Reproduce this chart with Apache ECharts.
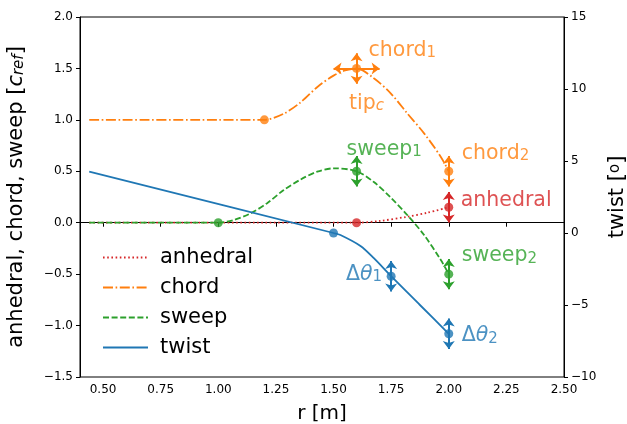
<!DOCTYPE html>
<html><head><meta charset="utf-8">
<script src="https://cdn.jsdelivr.net/npm/echarts@6/dist/echarts.min.js"></script>
<style>html,body{margin:0;padding:0;background:#fff}#c{width:627px;height:424px}</style>
</head><body><div id="c"></div>
<script>
// ---- data ----
const xTicks = [0.5, 0.75, 1.0, 1.25, 1.5, 1.75, 2.0, 2.25, 2.5];
// curves [r, value]
const anhedralCurve = [[0.44,0],[1.0,0],[1.6,0],[1.7,0.017],[1.82,0.058],[1.907,0.097],[2.0,0.15]];
const chordCurve = [[0.44,1.0],[1.0,1.0],[1.2,1.0],[1.284,1.06],[1.357,1.17],[1.43,1.32],[1.5,1.43],[1.55,1.48],[1.6,1.5],
  [1.675,1.404],[1.748,1.258],[1.82,1.063],[1.893,0.869],[1.965,0.642],[2.0,0.5]];
const sweepCurve = [[0.44,0],[0.9,0],[1.0,0],[1.067,0.026],[1.139,0.09],[1.212,0.19],[1.284,0.318],[1.357,0.42],
  [1.429,0.496],[1.502,0.529],[1.6,0.5],[1.675,0.395],[1.748,0.245],[1.82,0.075],[1.893,-0.12],[1.965,-0.36],[2.0,-0.5]];
const twistCurve = [[0.44,4.26],[1.5,0],[1.53,-0.14],[1.617,-0.9],[1.675,-1.75],[1.75,-3],[1.875,-5],[2.0,-7]];
// control points (dots)
const anhedralPts = [[1.6,0],[2.0,0.15]];
const chordPts = [[1.2,1.0],[1.6,1.5],[2.0,0.5]];
const sweepPts = [[1.0,0],[1.6,0.5],[2.0,-0.5]];
const twistPts = [[1.5,0],[1.75,-3],[2.0,-7]];
// design variables (arrows)
const anhedralVars = [[2.0,0.15]];
const chordVars = [[1.6,1.5],[2.0,0.5]];
const tipVars = [[1.6,1.5]];
const sweepVars = [[1.6,0.5],[2.0,-0.5]];
const twistVars = [[1.75,-3],[2.0,-7]];
// annotation labels
const leftLabels = [
  {pt:[1.6,1.5], text:'chord{s|1}', color:'#ff7f0e', pos:[12,-18], align:'left'},
  {pt:[1.6,1.5], text:'tip{si|c}', color:'#ff7f0e', pos:[10,35], align:'center'},
  {pt:[1.6,0.5], text:'sweep{s|1}', color:'#2ca02c', pos:[-10,-22], align:'left'},
  {pt:[2.0,0.5], text:'chord{s|2}', color:'#ff7f0e', pos:[13,-18], align:'left'},
  {pt:[2.0,0.15], text:'anhedral', color:'#d62728', pos:[12,-7], align:'left'},
  {pt:[2.0,-0.5], text:'sweep{s|2}', color:'#2ca02c', pos:[13,-18], align:'left'}
];
const rightLabels = [
  {pt:[1.75,-3], text:'Δ{i|θ}{s|1}', color:'#1f77b4', pos:[-9,-2], align:'right'},
  {pt:[2.0,-7], text:'Δ{i|θ}{s|2}', color:'#1f77b4', pos:[13,2], align:'left'}
];

const C = {anhedral:'#d62728', chord:'#ff7f0e', sweep:'#2ca02c', twist:'#1f77b4'};
const FF = 'DejaVu Sans';
const LW = 1.8;
const FS = 20.5;
const dY = 0.148, dT = 1.06, dX = 0.1;

function richFor(color){
  return {
    s:{fontSize:15, fontFamily:FF, color, lineHeight:10, verticalAlign:'bottom'},
    si:{fontSize:15, fontFamily:FF, color, lineHeight:10, verticalAlign:'bottom', fontStyle:'italic'},
    i:{fontSize:FS, fontFamily:FF, color, fontStyle:'italic'}
  };
}
function arrowLine(color, data){
  return {silent:true, symbol:['arrow','arrow'], symbolSize:[9,8], label:{show:false},
    lineStyle:{color, width:2, type:'solid'}, emphasis:{disabled:true}, animation:false, data};
}
function vert(vars, d){ return vars.map(([x,y]) => [{coord:[x,y-d]},{coord:[x,y+d]}]); }
function horiz(vars, d){ return vars.map(([x,y]) => [{coord:[x-d,y]},{coord:[x+d,y]}]); }
function curve(name, data, color, type, yi){
  return {name, type:'line', data, yAxisIndex:yi, symbol:'none', smooth:0.3,
    lineStyle:{color, width:LW, type}, itemStyle:{color}, z:2, animation:false};
}
function dots(data, color, yi, ml){
  const s = {type:'scatter', data, yAxisIndex:yi, symbol:'circle', symbolSize:9,
    itemStyle:{color}, z:4, animation:false, silent:true};
  if (ml) s.markLine = ml;
  return s;
}
function labelSeries(list, yi){
  return {type:'scatter', yAxisIndex:yi, symbolSize:0, silent:true, z:5, animation:false,
    data: list.map(l => ({value:l.pt, label:{show:true, position:l.pos, align:l.align, verticalAlign:'middle',
      formatter:l.text, fontSize:FS, fontFamily:FF, color:l.color, rich:richFor(l.color)}}))};
}

const chord1Lines = vert(chordVars, dY).concat(horiz(tipVars, dX));

const option = {
  backgroundColor:'#fff',
  animation:false,
  grid:{left:80, right:63, top:17, bottom:47, outerBoundsMode:'none', containLabel:false,
    show:true, borderColor:'#000', borderWidth:1, backgroundColor:'transparent'},
  legend:{
    orient:'vertical', left:97, top:242, itemWidth:45, itemHeight:14, itemGap:9,
    data:['anhedral','chord','sweep','twist'],
    itemStyle:{opacity:0},
    textStyle:{fontSize:21, fontFamily:FF, color:'#000', padding:[0,0,0,7]},
    selectedMode:false
  },
  xAxis:{
    type:'value', min:0.4, max:2.5,
    name:'r [m]', nameLocation:'middle', nameGap:27,
    nameTextStyle:{fontSize:20, fontFamily:FF, color:'#000'},
    axisLine:{show:true, lineStyle:{color:'#000', width:1}},
    axisTick:{show:true, length:4, customValues:xTicks, lineStyle:{color:'#000'}},
    axisLabel:{customValues:xTicks, formatter:v => v.toFixed(2), fontSize:12, fontFamily:FF, color:'#000', margin:7},
    splitLine:{show:false}
  },
  yAxis:[{
    type:'value', min:-1.5, max:2.0, interval:0.5, position:'left',
    name:'anhedral, chord, sweep [{i|c}{is|ref}]', nameLocation:'middle', nameGap:53, nameRotate:90,
    nameTextStyle:{fontSize:21, fontFamily:FF, color:'#000', rich:{
      i:{fontSize:21, fontFamily:FF, color:'#000', fontStyle:'italic'},
      is:{fontSize:15, fontFamily:FF, color:'#000', fontStyle:'italic', lineHeight:10, verticalAlign:'bottom'}
    }},
    axisLine:{show:true, lineStyle:{color:'#000', width:1}},
    axisTick:{show:true, length:4, lineStyle:{color:'#000'}},
    axisLabel:{formatter:v => v.toFixed(1).replace('-', '\u2212'), fontSize:12, fontFamily:FF, color:'#000', margin:7},
    splitLine:{show:false}
  },{
    type:'value', min:-10, max:15, interval:5, position:'right',
    name:'twist [{sup|o}]', nameLocation:'middle', nameGap:42, nameRotate:90,
    nameTextStyle:{fontSize:21, fontFamily:FF, color:'#000', rich:{
      sup:{fontSize:15, fontFamily:FF, color:'#000', lineHeight:10, verticalAlign:'top'}
    }},
    axisLine:{show:true, lineStyle:{color:'#000', width:1}},
    axisTick:{show:true, length:4, lineStyle:{color:'#000'}},
    axisLabel:{formatter:v => String(v).replace('-', '\u2212'), fontSize:12, fontFamily:FF, color:'#000', margin:7},
    splitLine:{show:false}
  }],
  series:[
    curve('anhedral', anhedralCurve, C.anhedral, [1.6,2.6], 0),
    curve('chord', chordCurve, C.chord, [10,2.6,1.6,2.6], 0),
    curve('sweep', sweepCurve, C.sweep, [6,2.6], 0),
    curve('twist', twistCurve, C.twist, 'solid', 1),
    dots(anhedralPts, C.anhedral, 0, arrowLine(C.anhedral, vert(anhedralVars, dY))),
    dots(chordPts, C.chord, 0, arrowLine(C.chord, chord1Lines)),
    dots(sweepPts, C.sweep, 0, arrowLine(C.sweep, vert(sweepVars, dY))),
    dots(twistPts, C.twist, 1, arrowLine(C.twist, vert(twistVars, dT))),
    labelSeries(leftLabels, 0),
    labelSeries(rightLabels, 1)
  ]
};
const chart = echarts.init(document.getElementById('c'), null, {renderer:'canvas'});
chart.setOption(option);
</script></body></html>
